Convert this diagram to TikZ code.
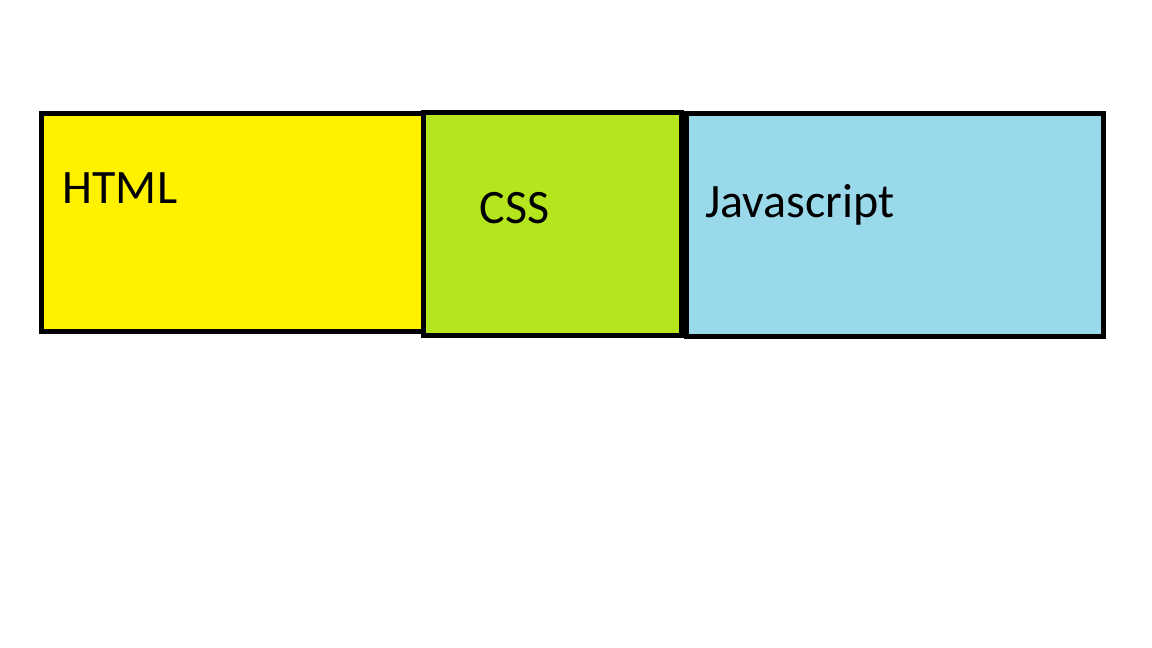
\documentclass[tikz,border=0pt]{standalone}
\usepackage{fontspec}
\setmainfont{Carlito}
\definecolor{htmlyellow}{HTML}{FFF200}
\definecolor{cssgreen}{HTML}{B5E61D}
\definecolor{jsblue}{HTML}{99D9EA}
\begin{document}
\begin{tikzpicture}[x=1pt,y=-1pt,
  box/.style={draw=black,line width=5pt,line join=miter,inner sep=0pt,rectangle},
  lbl/.style={anchor=base west,inner sep=0pt,text=black,font=\fontsize{48}{57}\selectfont}]
\useasboundingbox[fill=white] (0,0) rectangle (1152,648);
\node[box,fill=htmlyellow,minimum width=381.9pt,minimum height=218.6pt] (html) at (232.45,222.5) {};
\node[box,fill=cssgreen,minimum width=257.8pt,minimum height=222.9pt] (css) at (552.3,223.75) {};
\node[box,fill=jsblue,minimum width=417.4pt,minimum height=223pt] (js) at (894.7,224.8) {};
\node[lbl] (htmllbl) at (62.5,203) {HTML};
\node[lbl] (csslbl) at (479.5,223) {CSS};
\node[lbl] (jslbl) at (705,217) {Javascript};
\end{tikzpicture}
\end{document}
